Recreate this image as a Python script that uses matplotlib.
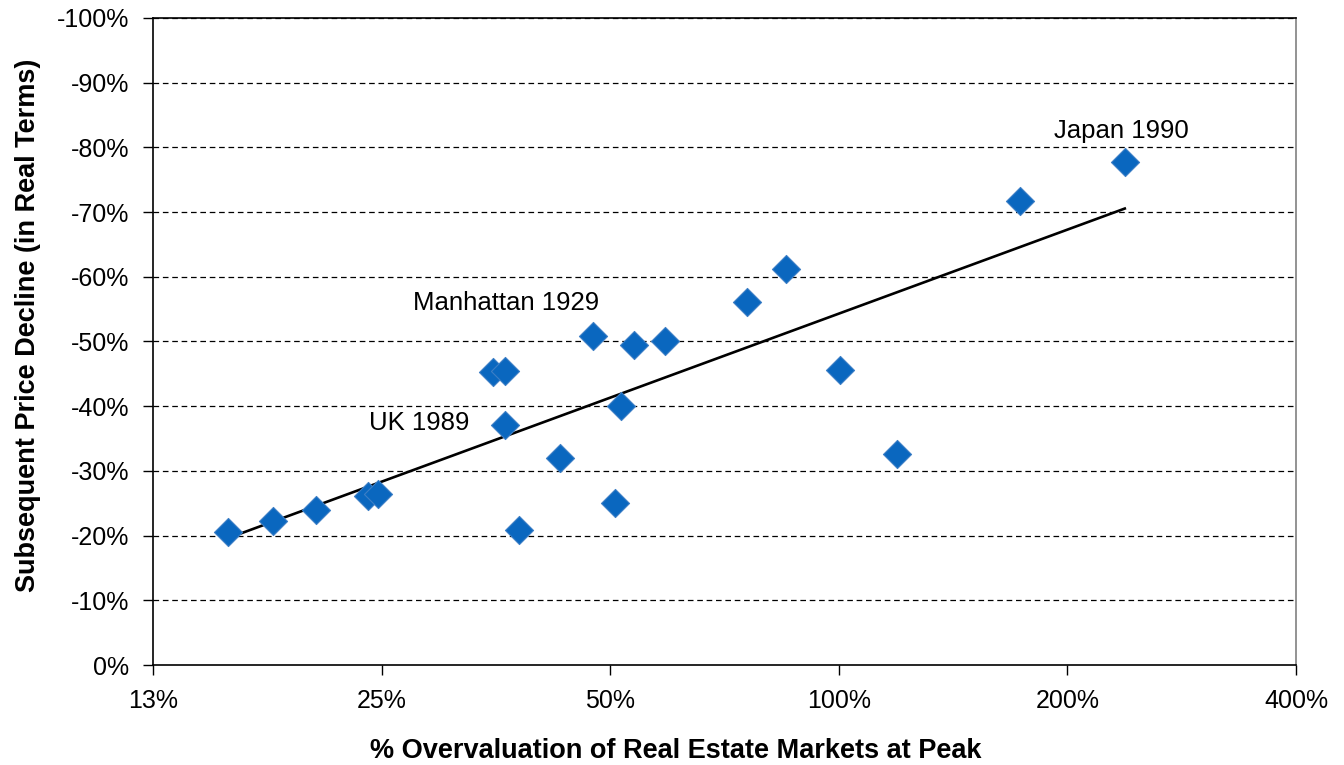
import numpy as np
import matplotlib
matplotlib.use("Agg")
import matplotlib.pyplot as plt
from matplotlib.ticker import FixedLocator, FixedFormatter

plt.rcParams['font.family'] = ['Liberation Sans', 'DejaVu Sans']

# % overvaluation at peak
overvaluation = [15.7, 18.0, 20.5, 24.0, 24.7, 35.0, 36.3, 36.4, 37.9, 42.9, 47.4,
                 50.8, 51.6, 53.8, 59.0, 75.8, 85.3, 100.5, 119.4, 173.0, 238.0]
# subsequent decline (magnitude, %)
decline = [20.6, 22.3, 24.0, 26.1, 26.4, 45.3, 45.4, 37.1, 20.9, 32.0, 50.9,
           25.0, 40.0, 49.5, 50.1, 56.1, 61.2, 45.6, 32.6, 71.7, 77.7]

x_ticks = [12.5, 25, 50, 100, 200, 400]
x_labels = ['13%', '25%', '50%', '100%', '200%', '400%']
y_ticks = list(range(0, 101, 10))
y_labels = ['0%'] + ['-%d%%' % v for v in range(10, 101, 10)]

labels = ['Japan 1990', 'Manhattan 1929', 'UK 1989']
label_x = [192.0, 27.5, 24.1]
label_y = [82.5, 56.0, 37.4]

fig = plt.figure(figsize=(13.44, 7.65), dpi=100)
ax = fig.add_axes([0.1138, 0.1307, 0.8505, 0.8458])
ax.set_xscale('log', base=2)
ax.set_xlim(12.5, 400)
ax.set_ylim(0, 100)

for yv in y_ticks[1:]:
    ax.axhline(yv, color='black', lw=0.9, ls=(0, (4.5, 3)), zorder=1)

# log trendline
xs = np.array(overvaluation)
ys = np.array(decline)
b, a = np.polyfit(np.log(xs), ys, 1)
xt = np.array([xs.min(), xs.max()])
ax.plot(xt, a + b * np.log(xt), color='black', lw=1.9, zorder=2)

ax.scatter(overvaluation, decline, marker='D', s=205, color='#0A67BF',
           edgecolors='#3D7FC6', linewidths=0.8, zorder=3)

for t, lx, ly in zip(labels, label_x, label_y):
    ax.text(lx, ly, t, ha='left', va='center', fontsize=18.5, color='black', zorder=4)

ax.xaxis.set_major_locator(FixedLocator(x_ticks))
ax.xaxis.set_major_formatter(FixedFormatter(x_labels))
ax.xaxis.set_minor_locator(FixedLocator([]))
ax.set_yticks(y_ticks)
ax.set_yticklabels(y_labels)
ax.tick_params(axis='both', direction='out', length=7, width=1, labelsize=18)
ax.tick_params(axis='y', pad=10)
ax.tick_params(axis='x', pad=10)

for s in ['left', 'bottom', 'top']:
    ax.spines[s].set_color('black')
    ax.spines[s].set_linewidth(1.2)
ax.spines['right'].set_color('#808080')
ax.spines['right'].set_linewidth(1.2)

fig.text(0.503, 0.0185, '% Overvaluation of Real Estate Markets at Peak', fontsize=19.5,
         fontweight='bold', ha='center', va='center')
fig.text(0.0205, (765 - 325) / 765, 'Subsequent Price Decline (in Real Terms)', fontsize=19.5,
         fontweight='bold', ha='center', va='center', rotation=90)

fig.savefig('out.png', dpi=100)
